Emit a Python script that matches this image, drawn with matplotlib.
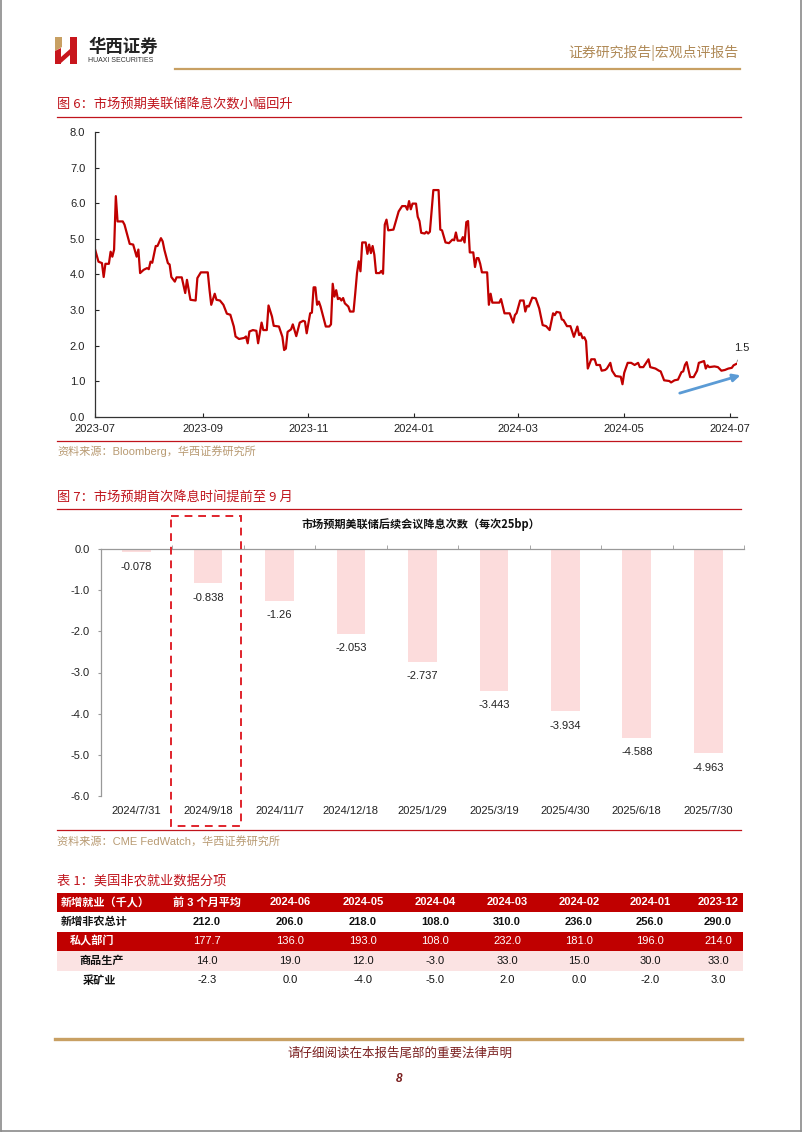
import numpy as np
import pandas as pd
import matplotlib
matplotlib.use('Agg')
import matplotlib.pyplot as plt
import matplotlib.dates as mdates
from matplotlib.patches import Rectangle, Polygon
from matplotlib.ticker import FuncFormatter, FixedLocator

plt.rcParams['font.family'] = ['Liberation Sans', 'Noto Sans CJK SC']
CJK = ['Noto Sans CJK SC', 'Liberation Sans']

# ---------------------------------------------------------------
# 图6 数据：市场预期美联储降息次数（读图估计，天数自2023-07-01起）
# ---------------------------------------------------------------
cut_days = [0, 2, 4, 5, 6, 8, 9, 10, 11, 12, 13, 16, 17, 20, 22, 24, 25, 26, 28, 30,
            31, 32, 33, 35, 36, 38, 39, 40, 42, 43, 44, 46, 47, 50, 52, 53, 55, 58, 59, 61,
            65, 66, 67, 69, 70, 72, 74, 76, 78, 80, 81, 83, 86, 87, 88, 89, 91, 93, 94, 96,
            97, 99, 100, 102, 103, 106, 108, 109, 110, 111, 113, 114, 115, 116, 118, 120, 121, 122, 124, 125,
            126, 127, 128, 129, 130, 132, 133, 135, 136, 137, 138, 139, 140, 141, 142, 143, 144, 146, 147, 149,
            150, 151, 152, 153, 154, 156, 157, 158, 159, 160, 161, 162, 164, 165, 166, 167, 168, 169, 172, 173,
            175, 177, 179, 180, 181, 182, 183, 185, 186, 187, 188, 190, 191, 192, 193, 195, 198, 199, 200, 202,
            204, 206, 207, 208, 209, 211, 212, 213, 214, 215, 216, 218, 219, 220, 221, 222, 223, 226, 227, 228,
            229, 233, 234, 236, 239, 241, 242, 243, 245, 247, 248, 249, 250, 252, 254, 256, 257, 258, 260, 262,
            264, 265, 266, 268, 269, 270, 272, 274, 276, 278, 279, 280, 281, 282, 283, 284, 286, 288, 289, 291,
            292, 294, 295, 297, 298, 300, 303, 304, 305, 307, 309, 311, 313, 314, 316, 319, 320, 323, 325, 326,
            328, 331, 332, 334, 336, 338, 339, 340, 341, 343, 345, 347, 348, 351, 352, 353, 354, 357, 359, 361,
            363, 365, 367, 368, 370]
cut_counts = [4.71, 4.36, 4.32, 3.93, 4.30, 4.30, 4.64, 4.50, 4.70, 6.20, 5.49, 5.49, 5.40, 4.86, 4.84, 4.50, 4.70, 4.04, 4.13, 4.18,
              4.15, 4.36, 4.33, 4.80, 4.80, 5.02, 4.93, 4.69, 4.32, 4.28, 3.93, 3.80, 3.92, 3.92, 3.48, 3.85, 3.29, 3.27, 3.90, 4.06,
              4.06, 3.57, 3.15, 3.46, 3.29, 3.27, 3.15, 2.90, 2.87, 2.54, 2.26, 2.19, 2.22, 2.26, 2.07, 2.40, 2.44, 2.42, 2.07, 2.65,
              2.44, 2.44, 3.13, 2.82, 2.56, 2.54, 2.25, 1.88, 1.92, 2.39, 2.46, 2.60, 2.44, 2.27, 2.65, 2.70, 2.68, 2.35, 2.91, 2.93,
              3.64, 3.64, 3.15, 3.24, 3.10, 2.72, 2.54, 2.54, 2.60, 3.74, 3.38, 3.56, 3.31, 3.34, 3.27, 3.34, 3.19, 3.10, 2.96, 2.96,
              3.48, 4.04, 4.37, 4.09, 4.90, 4.90, 4.58, 4.84, 4.60, 4.80, 4.55, 4.04, 4.04, 4.10, 4.02, 5.40, 5.54, 5.24, 5.26, 5.43,
              5.77, 5.92, 5.92, 5.82, 6.06, 5.83, 5.99, 5.99, 5.62, 5.50, 5.17, 5.15, 5.20, 5.15, 5.20, 6.37, 6.37, 5.26, 5.24, 4.90,
              4.88, 4.98, 4.96, 5.18, 4.95, 4.95, 5.05, 4.90, 5.47, 5.50, 4.62, 4.62, 4.21, 4.46, 4.46, 4.30, 4.06, 4.06, 3.15, 3.46,
              3.21, 3.21, 3.31, 2.91, 2.91, 2.65, 2.86, 2.92, 3.27, 3.27, 2.96, 3.12, 3.10, 3.35, 3.33, 3.05, 2.82, 2.58, 2.55, 2.44,
              2.91, 2.86, 2.95, 2.93, 2.74, 2.72, 2.55, 2.55, 2.25, 2.54, 2.30, 2.35, 2.21, 2.24, 2.13, 1.36, 1.62, 1.62, 1.46, 1.46,
              1.30, 1.32, 1.36, 1.52, 1.30, 1.15, 1.13, 0.92, 1.24, 1.52, 1.52, 1.46, 1.52, 1.40, 1.40, 1.62, 1.40, 1.36, 1.30, 1.28,
              1.03, 1.01, 0.97, 1.03, 1.05, 1.26, 1.28, 1.46, 1.54, 1.12, 1.12, 1.30, 1.52, 1.57, 1.36, 1.45, 1.40, 1.42, 1.40, 1.30,
              1.32, 1.36, 1.38, 1.45, 1.50]

# 图7 数据
meetings = ['2024/7/31', '2024/9/18', '2024/11/7', '2024/12/18', '2025/1/29',
            '2025/3/19', '2025/4/30', '2025/6/18', '2025/7/30']
meeting_cuts = [-0.078, -0.838, -1.26, -2.053, -2.737, -3.443, -3.934, -4.588, -4.963]

# 表1 数据
table_cols = ['新增就业（千人）', '前 3 个月平均', '2024-06', '2024-05', '2024-04',
              '2024-03', '2024-02', '2024-01', '2023-12']
table_rows = ['新增非农总计', '私人部门', '商品生产', '采矿业']
nfp_total = [212.0, 206.0, 218.0, 108.0, 310.0, 236.0, 256.0, 290.0]
nfp_private = [177.7, 136.0, 193.0, 108.0, 232.0, 181.0, 196.0, 214.0]
nfp_goods = [14.0, 19.0, 12.0, -3.0, 33.0, 15.0, 30.0, 33.0]
nfp_mining = [-2.3, 0.0, -4.0, -5.0, 2.0, 0.0, -2.0, 3.0]

# ---------------------------------------------------------------
# 版面
# ---------------------------------------------------------------
W, H = 802, 1133
RED = '#C0141C'
DARK_RED = '#C00000'
GOLD = '#C8A063'
TAN = '#B89A72'

fig = plt.figure(figsize=(W / 100, H / 100), dpi=100)


def rect(x0, y0, x1, y1):
    return [x0 / W, 1 - y1 / H, (x1 - x0) / W, (y1 - y0) / H]


# ---------------- 图6 ----------------
start = pd.Timestamp('2023-07-01')
dates = start + pd.to_timedelta(cut_days, unit='D')

ax1 = fig.add_axes(rect(95, 132, 737, 417))
ax1.plot(dates, cut_counts, color=DARK_RED, lw=1.6, solid_joinstyle='round')
ax1.set_ylim(0, 8)
ax1.set_xlim(start, start + pd.Timedelta(days=370))
ax1.set_yticks(np.arange(0, 9, 1))
ax1.yaxis.set_major_formatter(FuncFormatter(lambda v, p: f'{v:.1f}'))
ax1.set_xticks(pd.date_range('2023-07-01', '2024-07-01', freq='2MS'))
ax1.xaxis.set_major_formatter(mdates.DateFormatter('%Y-%m'))
ax1.tick_params(direction='in', length=3, labelsize=8, colors='#222222', width=0.8)
ax1.tick_params(axis='y', pad=7)
ax1.tick_params(axis='x', pad=5)
for s in ['top', 'right']:
    ax1.spines[s].set_visible(False)
for s in ['left', 'bottom']:
    ax1.spines[s].set_color('#333333')
    ax1.spines[s].set_linewidth(0.9)
ax1.patch.set_visible(False)

ax1.annotate('1.5', xy=(dates[-1], cut_counts[-1] + 0.05),
             xytext=(start + pd.Timedelta(days=372.5), 1.93),
             ha='center', va='center', fontsize=8, color='#222222',
             arrowprops=dict(arrowstyle='-', color='#888888', lw=0.6, shrinkA=3, shrinkB=0),
             annotation_clip=False)
ax1.annotate('', xy=(start + pd.Timedelta(days=372), 1.17),
             xytext=(start + pd.Timedelta(days=337), 0.67),
             arrowprops=dict(arrowstyle='-|>', color='#5B9BD5', lw=2, mutation_scale=11,
                             shrinkA=0, shrinkB=0),
             annotation_clip=False)

# ---------------- 图7 ----------------
ax2 = fig.add_axes(rect(100.7, 549, 744, 796))
xpos = np.arange(len(meetings))
ax2.bar(xpos, meeting_cuts, width=0.4, color='#FCDCDC')
for x, v in zip(xpos, meeting_cuts):
    ax2.annotate(str(v), (x, v), xytext=(0, -10.5), textcoords='offset points',
                 ha='center', va='center', fontsize=8, color='#222222')
ax2.set_xlim(-0.5, len(meetings) - 0.5)
ax2.set_ylim(-6, 0)
ax2.set_yticks(np.arange(-6, 1, 1))
ax2.yaxis.set_major_formatter(FuncFormatter(lambda v, p: f'{v:.1f}' if v != 0 else '0.0'))
ax2.set_xticks(xpos)
ax2.set_xticklabels(meetings)
ax2.xaxis.set_minor_locator(FixedLocator(np.arange(0.5, len(meetings), 1)))
ax2.tick_params(axis='x', which='major', length=0, pad=7, labelsize=8, colors='#222222')
ax2.tick_params(axis='x', which='minor', top=True, bottom=False, direction='out',
                length=3, color='#999999')
ax2.tick_params(axis='y', direction='out', length=2, labelsize=8, colors='#222222', pad=6)
ax2.tick_params(axis='y', color='#999999')
for s in ['bottom', 'right']:
    ax2.spines[s].set_visible(False)
for s in ['top', 'left']:
    ax2.spines[s].set_color('#999999')
    ax2.spines[s].set_linewidth(0.9)
ax2.patch.set_visible(False)
ax2.text(0.497, 1.1, '市场预期美联储后续会议降息次数（每次25bp）', transform=ax2.transAxes,
         ha='center', va='center', fontsize=8, fontweight='bold', color='#111111', family=CJK)

# ---------------- 页面元素 ----------------
page = fig.add_axes([0, 0, 1, 1])
page.set_xlim(0, W)
page.set_ylim(H, 0)
page.axis('off')
page.set_zorder(10)
page.patch.set_visible(False)

# 页框
page.plot([1, 1], [0, 1131], color='#8a8a8a', lw=1.2)
page.plot([800.5, 800.5], [0, 1131], color='#8a8a8a', lw=1.2)
page.plot([1, 800.5], [1131, 1131], color='#8a8a8a', lw=1.2)

# 标志
page.add_patch(Polygon([(55, 37), (62, 37), (62, 47), (55, 51)], color=GOLD, lw=0))
page.add_patch(Polygon([(55, 51), (61, 48), (61, 64), (55, 64)], color='#C8161D', lw=0))
page.add_patch(Polygon([(70, 37), (77, 37), (77, 64), (70, 64)], color='#C8161D', lw=0))
page.add_patch(Polygon([(61, 57), (70, 49), (70, 55), (61, 63)], color='#C8161D', lw=0))
page.text(88, 47, '华西证券', fontsize=12.5, fontweight='bold', color='#222222',
          family=CJK, va='center', ha='left')
page.text(88.5, 61, 'HUAXI SECURITIES', fontsize=5, color='#333333', va='center', ha='left')
page.text(738, 53, '证券研究报告|宏观点评报告', fontsize=10, color='#B08A57',
          family=CJK, va='center', ha='right')
page.plot([175, 740], [69, 69], color=GOLD, lw=1.6)

# 图6 标题与来源
page.text(57, 104, '图 6：市场预期美联储降息次数小幅回升', fontsize=9.5, color=RED,
          family=CJK, va='center', ha='left')
page.plot([57, 741], [117, 117], color=RED, lw=0.9)
page.plot([57, 741], [441, 441], color=RED, lw=0.9)
page.text(57, 451, '资料来源：Bloomberg，华西证券研究所', fontsize=8, color=TAN,
          va='center', ha='left')

# 图7 标题与来源
page.text(57, 497, '图 7：市场预期首次降息时间提前至 9 月', fontsize=9.5, color=RED,
          family=CJK, va='center', ha='left')
page.plot([57, 741], [509, 509], color=RED, lw=0.9)
page.add_patch(Rectangle((170.7, 516), 70, 310, fill=False, edgecolor='#E0242C',
                         lw=1.4, ls=(0, (4, 3))))
page.plot([57, 741], [830, 830], color=RED, lw=0.9)
page.text(57, 841, '资料来源：CME FedWatch，华西证券研究所', fontsize=8, color=TAN,
          va='center', ha='left')

# 表1
page.text(57, 881, '表 1：美国非农就业数据分项', fontsize=9.5, color=RED,
          family=CJK, va='center', ha='left')
col_x = [207, 290, 363, 435, 507, 579, 650, 718]
row_top = [892.5, 912, 931.5, 951, 970.5]
row_h = 19.5
row_bg = [DARK_RED, 'white', DARK_RED, '#FBE3E3', 'white']
row_fg = ['white', '#111111', 'white', '#111111', '#111111']
row_label_x = [61, 61, 70, 79, 83]
row_values = [nfp_total, nfp_private, nfp_goods, nfp_mining]

for i in range(5):
    page.add_patch(Rectangle((57, row_top[i]), 686, row_h, color=row_bg[i], lw=0))
    yc = row_top[i] + row_h / 2
    if i == 0:
        page.text(row_label_x[0], yc, table_cols[0], fontsize=8, fontweight='bold',
                  color='white', family=CJK, va='center', ha='left')
        for x, c in zip(col_x, table_cols[1:]):
            page.text(x, yc, c, fontsize=8, fontweight='bold', color='white',
                      va='center', ha='center')
    else:
        bold = 'bold' if i == 1 else 'normal'
        page.text(row_label_x[i], yc, table_rows[i - 1], fontsize=8, fontweight='bold',
                  color=row_fg[i], family=CJK, va='center', ha='left')
        for x, v in zip(col_x, row_values[i - 1]):
            page.text(x, yc, f'{v:.1f}', fontsize=8, fontweight=bold, color=row_fg[i],
                      va='center', ha='center')

# 页脚
page.plot([55, 742], [1039, 1039], color=GOLD, lw=2.4)
page.text(400, 1053, '请仔细阅读在本报告尾部的重要法律声明', fontsize=9, color='#7A1F1F',
          family=CJK, va='center', ha='center')
page.text(399, 1079, '8', fontsize=8.5, fontweight='bold', fontstyle='italic',
          color='#7A1F1F', va='center', ha='center')

fig.savefig('out.png', dpi=100)
